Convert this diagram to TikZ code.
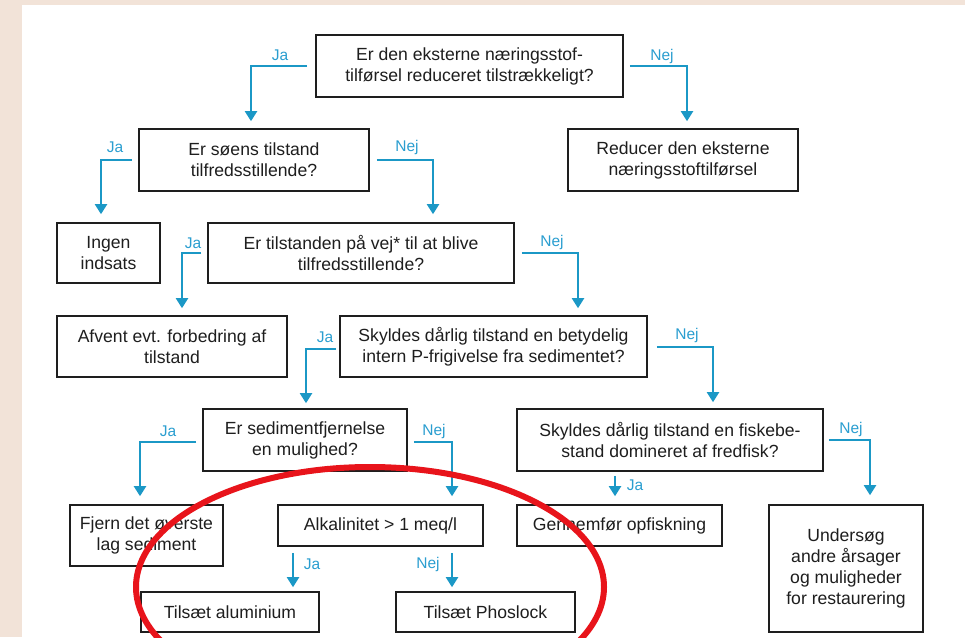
\documentclass[tikz,border=0pt]{standalone}
\usepackage{fontspec}
\setmainfont{Liberation Sans}
\usetikzlibrary{arrows.meta,calc}
\definecolor{beige}{HTML}{F2E3D8}
\definecolor{arrblue}{HTML}{1B98C6}
\definecolor{lblblue}{HTML}{2A9ED0}
\definecolor{boxline}{HTML}{1E1E1E}
\definecolor{boxtext}{HTML}{1E1E1E}
\definecolor{ellred}{HTML}{E8141B}
\begin{document}
\begin{tikzpicture}[x=1pt,y=-1pt,
  box/.style={draw=boxline, line width=1.6pt, fill=white, inner sep=0pt, align=center,
    text=boxtext, font=\fontsize{17.6}{21}\selectfont},
  arr/.style={draw=arrblue, line width=2pt, -{Triangle[width=12pt,length=10pt]}},
  lbl/.style={text=lblblue, font=\fontsize{15.5}{18}\selectfont, inner sep=0pt}]
\useasboundingbox (0,0) rectangle (965,637);
\fill[beige] (0,0) rectangle (965,637);
\fill[white] (22,5) rectangle (965,637);

% boxes
\node[box, minimum width=307pt, minimum height=62pt] (q1) at (469.5,66) {Er den eksterne næringsstof-\\tilførsel reduceret tilstrækkeligt?};
\node[box, minimum width=230pt, minimum height=62pt] (r1) at (683,160) {Reducer den eksterne\\næringsstoftilførsel};
\node[box, minimum width=230pt, minimum height=62pt] (q2) at (254,160) {Er søens tilstand\\tilfredsstillende?};
\node[box, minimum width=103pt, minimum height=60pt] (ingen) at (108.5,253) {Ingen\\indsats};
\node[box, minimum width=306pt, minimum height=60pt] (q3) at (361,253) {Er tilstanden på vej* til at blive\\tilfredsstillende?};
\node[box, minimum width=230pt, minimum height=61pt] (afvent) at (172,346.5) {Afvent evt. forbedring af\\tilstand};
\node[box, minimum width=307pt, minimum height=61pt] (q4) at (493.5,346.5) {Skyldes dårlig tilstand en betydelig\\intern P-frigivelse fra sedimentet?};
\node[box, minimum width=204pt, minimum height=62pt] (q5) at (305,440) {Er sedimentfjernelse\\en mulighed?};
\node[box, minimum width=306pt, minimum height=62pt] (q6) at (670,440) {Skyldes dårlig tilstand en fiskebe-\\stand domineret af fredfisk?};
\node[box, minimum width=153pt, minimum height=61pt] (fjern) at (146.5,535.5) {Fjern det øverste\\lag sediment};
\node[box, minimum width=205pt, minimum height=41pt] (alk) at (380.5,525.5) {\raisebox{2pt}{Alkalinitet > 1 meq/l}};
\node[box, minimum width=205pt, minimum height=41pt] (gennem) at (619.5,525.5) {\raisebox{2pt}{Gennemfør opfiskning}};
\node[box, minimum width=154pt, minimum height=127pt] (unders) at (846,568.5) {Undersøg\\andre årsager\\og muligheder\\for restaurering};
\node[box, minimum width=178pt, minimum height=40pt] (alu) at (230,612) {Tilsæt aluminium};
\node[box, minimum width=179pt, minimum height=40pt] (phos) at (485.5,612) {Tilsæt Phoslock};

% connectors
\draw[arr] ($(q1.west)+(-8,0)$) -| ($(q2.north)+(-3,-7)$);
\draw[arr] ($(q1.east)+(6,0)$) -| ($(r1.north)+(4,-7)$);
\draw[arr] ($(q2.west)+(-6,0)$) -| ($(ingen.north)+(-7.5,-8)$);
\draw[arr] ($(q2.east)+(7,0)$) -| ($(q3.north)+(72,-8)$);
\draw[arr] ($(q3.west)+(-6,0)$) -| ($(afvent.north)+(10,-7)$);
\draw[arr] ($(q3.east)+(7,0)$) -| ($(q4.north)+(84.5,-7)$);
\draw[arr] ($(q4.west)+(-3,2.5)$) -| ($(q5.north)+(1,-5)$);
\draw[arr] ($(q4.east)+(9,0.5)$) -| ($(q6.north)+(43,-6)$);
\draw[arr] ($(q5.west)+(-6,2)$) -| ($(fjern.north)+(-6.5,-8)$);
\draw[arr] ($(q5.east)+(6,2)$) -| ($(alk.north)+(71.5,-8)$);
\draw[arr] ($(q6.east)+(5,0)$) -| ($(unders.north)+(24,-9)$);
\draw[arr] ($(gennem.north |- q6.south)+(-4.5,4)$) -- ($(gennem.north)+(-4.5,-8)$);
\draw[arr] ($(alu.north |- alk.south)+(63,6)$) -- ($(alu.north)+(63,-4)$);
\draw[arr] ($(phos.north |- alk.south)+(-33.5,6)$) -- ($(phos.north)+(-33.5,-4)$);

% labels
\node[lbl] (l1) at (280,55) {Ja};
\node[lbl] (l2) at (662,56) {Nej};
\node[lbl] (l3) at (115,147) {Ja};
\node[lbl] (l4) at (407,147) {Nej};
\node[lbl] (l5) at (193,243) {Ja};
\node[lbl] (l6) at (552,242) {Nej};
\node[lbl] (l7) at (325,337) {Ja};
\node[lbl] (l8) at (687,335) {Nej};
\node[lbl] (l9) at (168,431) {Ja};
\node[lbl] (l10) at (434,431) {Nej};
\node[lbl] (l11) at (851,429) {Nej};
\node[lbl] (l12) at (635,485) {Ja};
\node[lbl] (l13) at (312,564) {Ja};
\node[lbl] (l14) at (428,564) {Nej};

% red ellipse annotation
\begin{scope}
\clip (22,5) rectangle (965,637);
\draw[ellred, line width=6pt] (370,587) ellipse [x radius=234, y radius=120];
\end{scope}
\end{tikzpicture}
\end{document}
